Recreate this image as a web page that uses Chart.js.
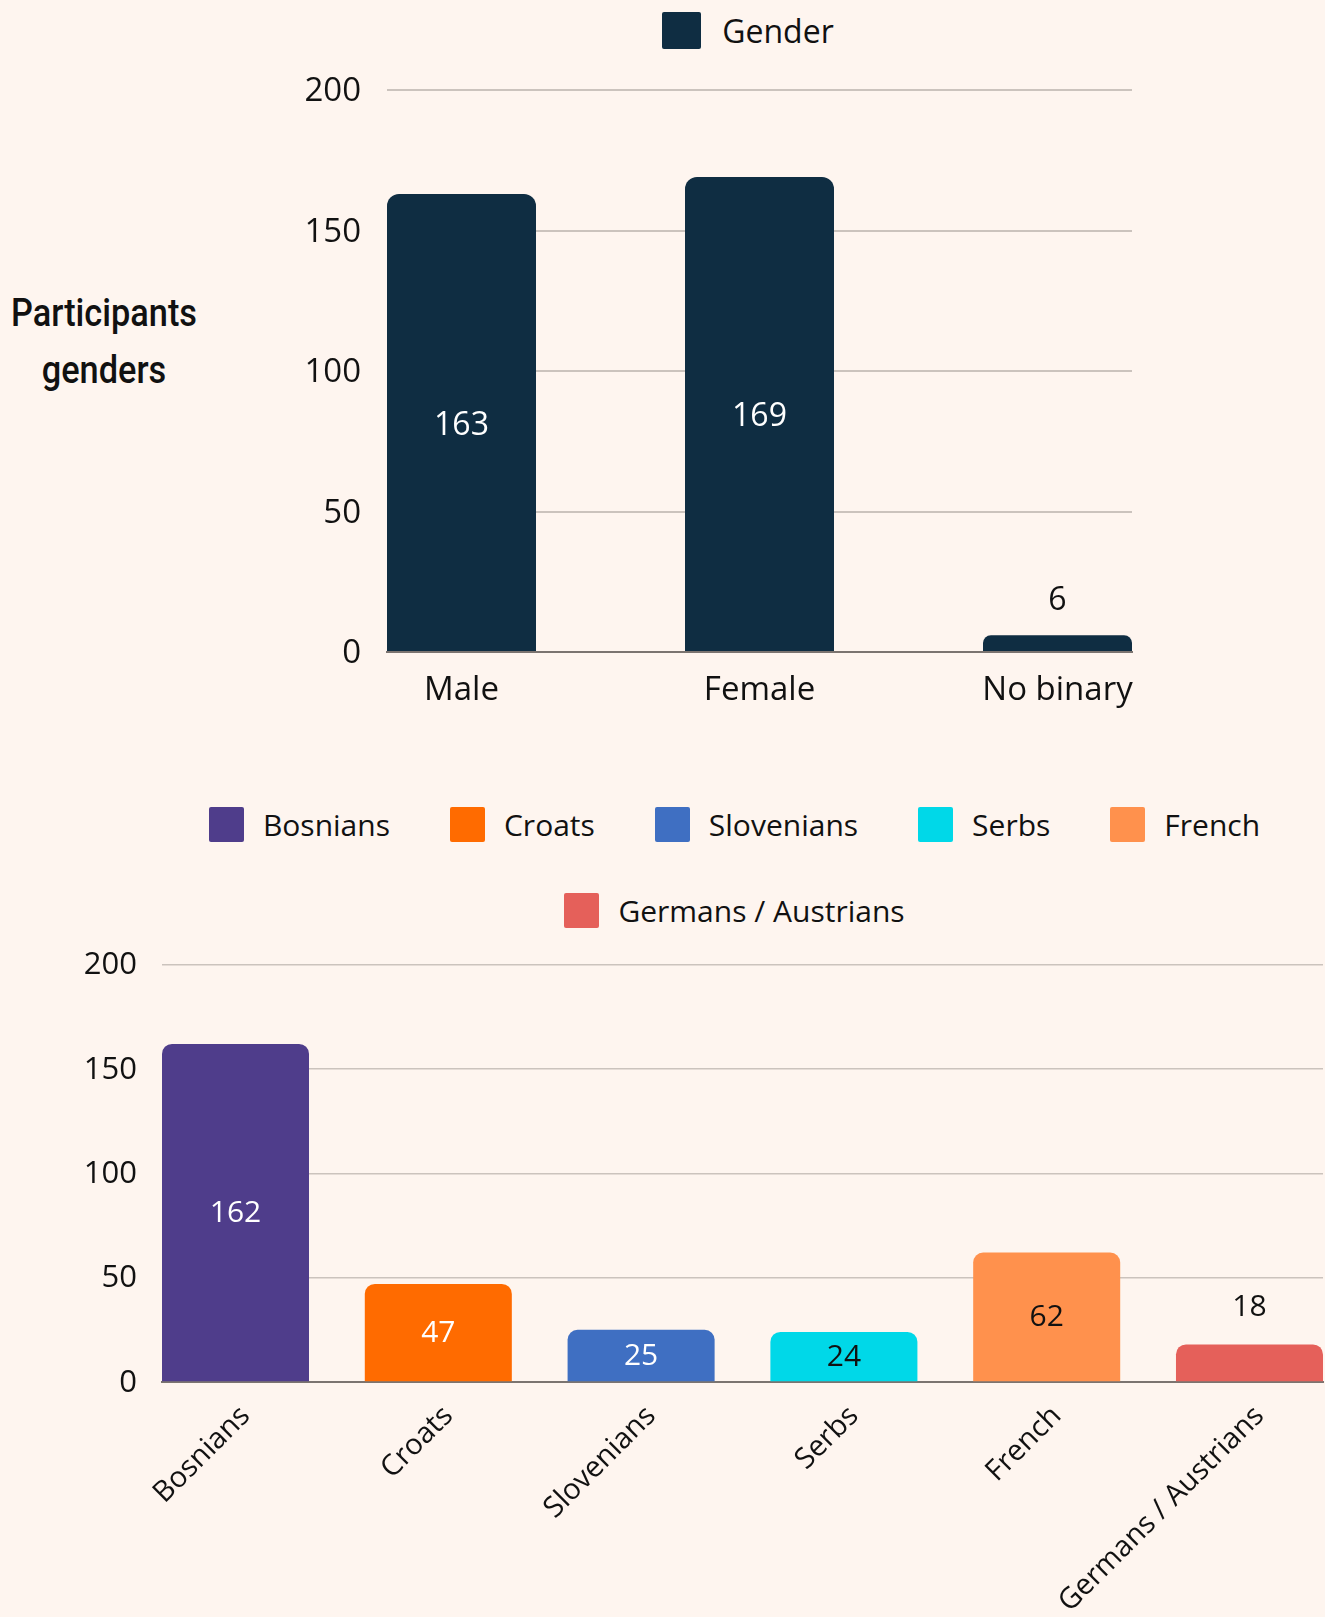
<!DOCTYPE html>
<html>
<head>
<meta charset="utf-8">
<script src="https://cdn.jsdelivr.net/npm/chart.js@4.4.1/dist/chart.umd.min.js"></script>
<style>
  html, body { margin:0; padding:0; background:#fef5ef; overflow:hidden; }
  #page { position:relative; width:1325px; height:1617px; font-family:'Open Sans',sans-serif; color:#111; }
  .box { position:absolute; }
  .legend { position:absolute; display:flex; flex-wrap:wrap; justify-content:center; column-gap:60px; }
  .legend .item { display:flex; align-items:center; white-space:nowrap; }
  .legend .swatch { border-radius:2px; flex-shrink:0; }
  #sideTitle { position:absolute; left:-6px; top:285px; width:220px; text-align:center;
    font-family:Roboto,sans-serif; font-weight:500; font-size:39px; line-height:57px;
    transform:scaleX(0.88); transform-origin:center; color:#111; }
</style>
</head>
<body>
<div id="page">
  <div id="sideTitle">Participants<br>genders</div>
  <div id="genderLegend" class="legend" style="left:171px;width:1154px;top:12px;"></div>
  <div class="box" style="left:0;top:0;width:1325px;height:720px;"><canvas id="genderChart"></canvas></div>
  <div id="originLegend" class="legend" style="left:144px;width:1181px;top:807px;row-gap:51px;"></div>
  <div class="box" style="left:0;top:921px;width:1325px;height:696px;"><canvas id="originChart"></canvas></div>
</div>
<script>
const genders = ['Male', 'Female', 'No binary'];
const genderCounts = [163, 169, 6];
const origins = ['Bosnians', 'Croats', 'Slovenians', 'Serbs', 'French', 'Germans / Austrians'];
const originCounts = [162, 47, 25, 24, 62, 18];

const genderColor = '#0f2d42';
const originColors = ['#4f3d8b', '#ff6b00', '#3f6fc2', '#00d8e8', '#ff914d', '#e5605a'];
const gridColor = '#cbc3bd';
const axisColor = '#7b7470';
const font = 'Open Sans';

// html legends (chart.js legend can't space rows like the original)
function legend(el, items, box, gap, size) {
  el.innerHTML = items.map(it => `<div class="item" style="font-size:${size}px;line-height:${box[1]}px;">
    <span class="swatch" style="width:${box[0]}px;height:${box[1]}px;background:${it.color};margin-right:${gap}px;"></span>${it.label}</div>`).join('');
}
legend(document.getElementById('genderLegend'), [{label:'Gender', color:genderColor}], [39, 37], 21, 32);
legend(document.getElementById('originLegend'), origins.map((o, i) => ({label:o, color:originColors[i]})), [35, 35], 19, 30);

function isLight(hex) {
  const n = parseInt(hex.slice(1), 16);
  const r = n >> 16, g = (n >> 8) & 255, b = n & 255;
  return 0.299 * r + 0.587 * g + 0.114 * b > 146;
}

// value labels: inside the bar when it is tall enough, above it otherwise
const barValues = {
  id: 'barValues',
  afterDatasetsDraw(chart, args, opts) {
    const ctx = chart.ctx;
    ctx.save();
    ctx.font = `${opts.size}px '${font}', sans-serif`;
    ctx.textAlign = 'center';
    ctx.textBaseline = 'middle';
    chart.data.datasets.forEach((ds, di) => {
      chart.getDatasetMeta(di).data.forEach((bar, i) => {
        const v = ds.data[i].y;
        const h = bar.base - bar.y;
        const fill = Array.isArray(ds.backgroundColor) ? ds.backgroundColor[i] : ds.backgroundColor;
        if (h > opts.minInside) {
          ctx.fillStyle = isLight(fill) ? '#111' : '#fff';
          ctx.fillText(v, bar.x, bar.y + h / 2 + opts.dy);
        } else {
          ctx.fillStyle = '#111';
          ctx.fillText(v, bar.x, bar.y - opts.above + opts.dy);
        }
      });
    });
    ctx.restore();
  }
};

new Chart(document.getElementById('genderChart'), {
  type: 'bar',
  data: {
    datasets: [{
      label: 'Gender',
      data: genderCounts.map((y, x) => ({x, y})),
      backgroundColor: genderColor,
      borderRadius: {topLeft: 12, topRight: 12},
      borderSkipped: 'start',
      barPercentage: 0.5,
      categoryPercentage: 1
    }]
  },
  options: {
    responsive: true, maintainAspectRatio: false, animation: false,
    layout: {padding: {top: 90, left: 287, right: 193, bottom: 0}},
    plugins: {legend: {display: false}, tooltip: {enabled: false}, barValues: {size: 32, minInside: 45, above: 37, dy: 3}},
    scales: {
      x: {
        type: 'linear', min: -0.25, max: 2.25, offset: false,
        grid: {display: false, drawTicks: false},
        border: {color: axisColor, width: 2},
        afterBuildTicks: s => { s.ticks = genders.map((_, i) => ({value: i})); },
        afterFit: s => { s.height = 68; },
        ticks: {callback: v => genders[v], font: {family: font, size: 33}, color: '#111', padding: 19, autoSkip: false, maxRotation: 0}
      },
      y: {
        min: 0, max: 200,
        ticks: {stepSize: 50, font: {family: font, size: 33}, color: '#111', padding: 26, labelOffset: 2},
        grid: {color: gridColor, lineWidth: 2, drawTicks: false},
        border: {display: false},
        afterFit: s => { s.width = 100; }
      }
    }
  },
  plugins: [barValues]
});

new Chart(document.getElementById('originChart'), {
  type: 'bar',
  data: {
    datasets: [{
      label: 'Origin',
      data: originCounts.map((y, x) => ({x, y})),
      backgroundColor: originColors,
      borderRadius: {topLeft: 10, topRight: 10},
      borderSkipped: 'start',
      barPercentage: 0.725,
      categoryPercentage: 1
    }]
  },
  options: {
    responsive: true, maintainAspectRatio: false, animation: false,
    layout: {padding: {top: 0, left: 62, right: 2, bottom: 0}},
    plugins: {legend: {display: false}, tooltip: {enabled: false}, barValues: {size: 30, minInside: 45, above: 38, dy: 1}},
    scales: {
      x: {
        type: 'linear', min: -0.3625, max: 5.3625, offset: false,
        grid: {display: false, drawTicks: false},
        border: {color: axisColor, width: 2},
        afterBuildTicks: s => { s.ticks = origins.map((_, i) => ({value: i})); },
        afterFit: s => { s.height = 235; },
        ticks: {callback: v => origins[v], font: {family: font, size: 29}, color: '#111', padding: 17, labelOffset: 10, autoSkip: false, minRotation: 45, maxRotation: 45}
      },
      y: {
        min: 0, max: 200,
        ticks: {stepSize: 50, font: {family: font, size: 31}, color: '#111', padding: 25, labelOffset: 1},
        grid: {color: gridColor, lineWidth: 1.5, drawTicks: false},
        border: {display: false},
        afterFit: s => { s.width = 100; }
      }
    }
  },
  plugins: [barValues]
});
</script>
</body>
</html>
